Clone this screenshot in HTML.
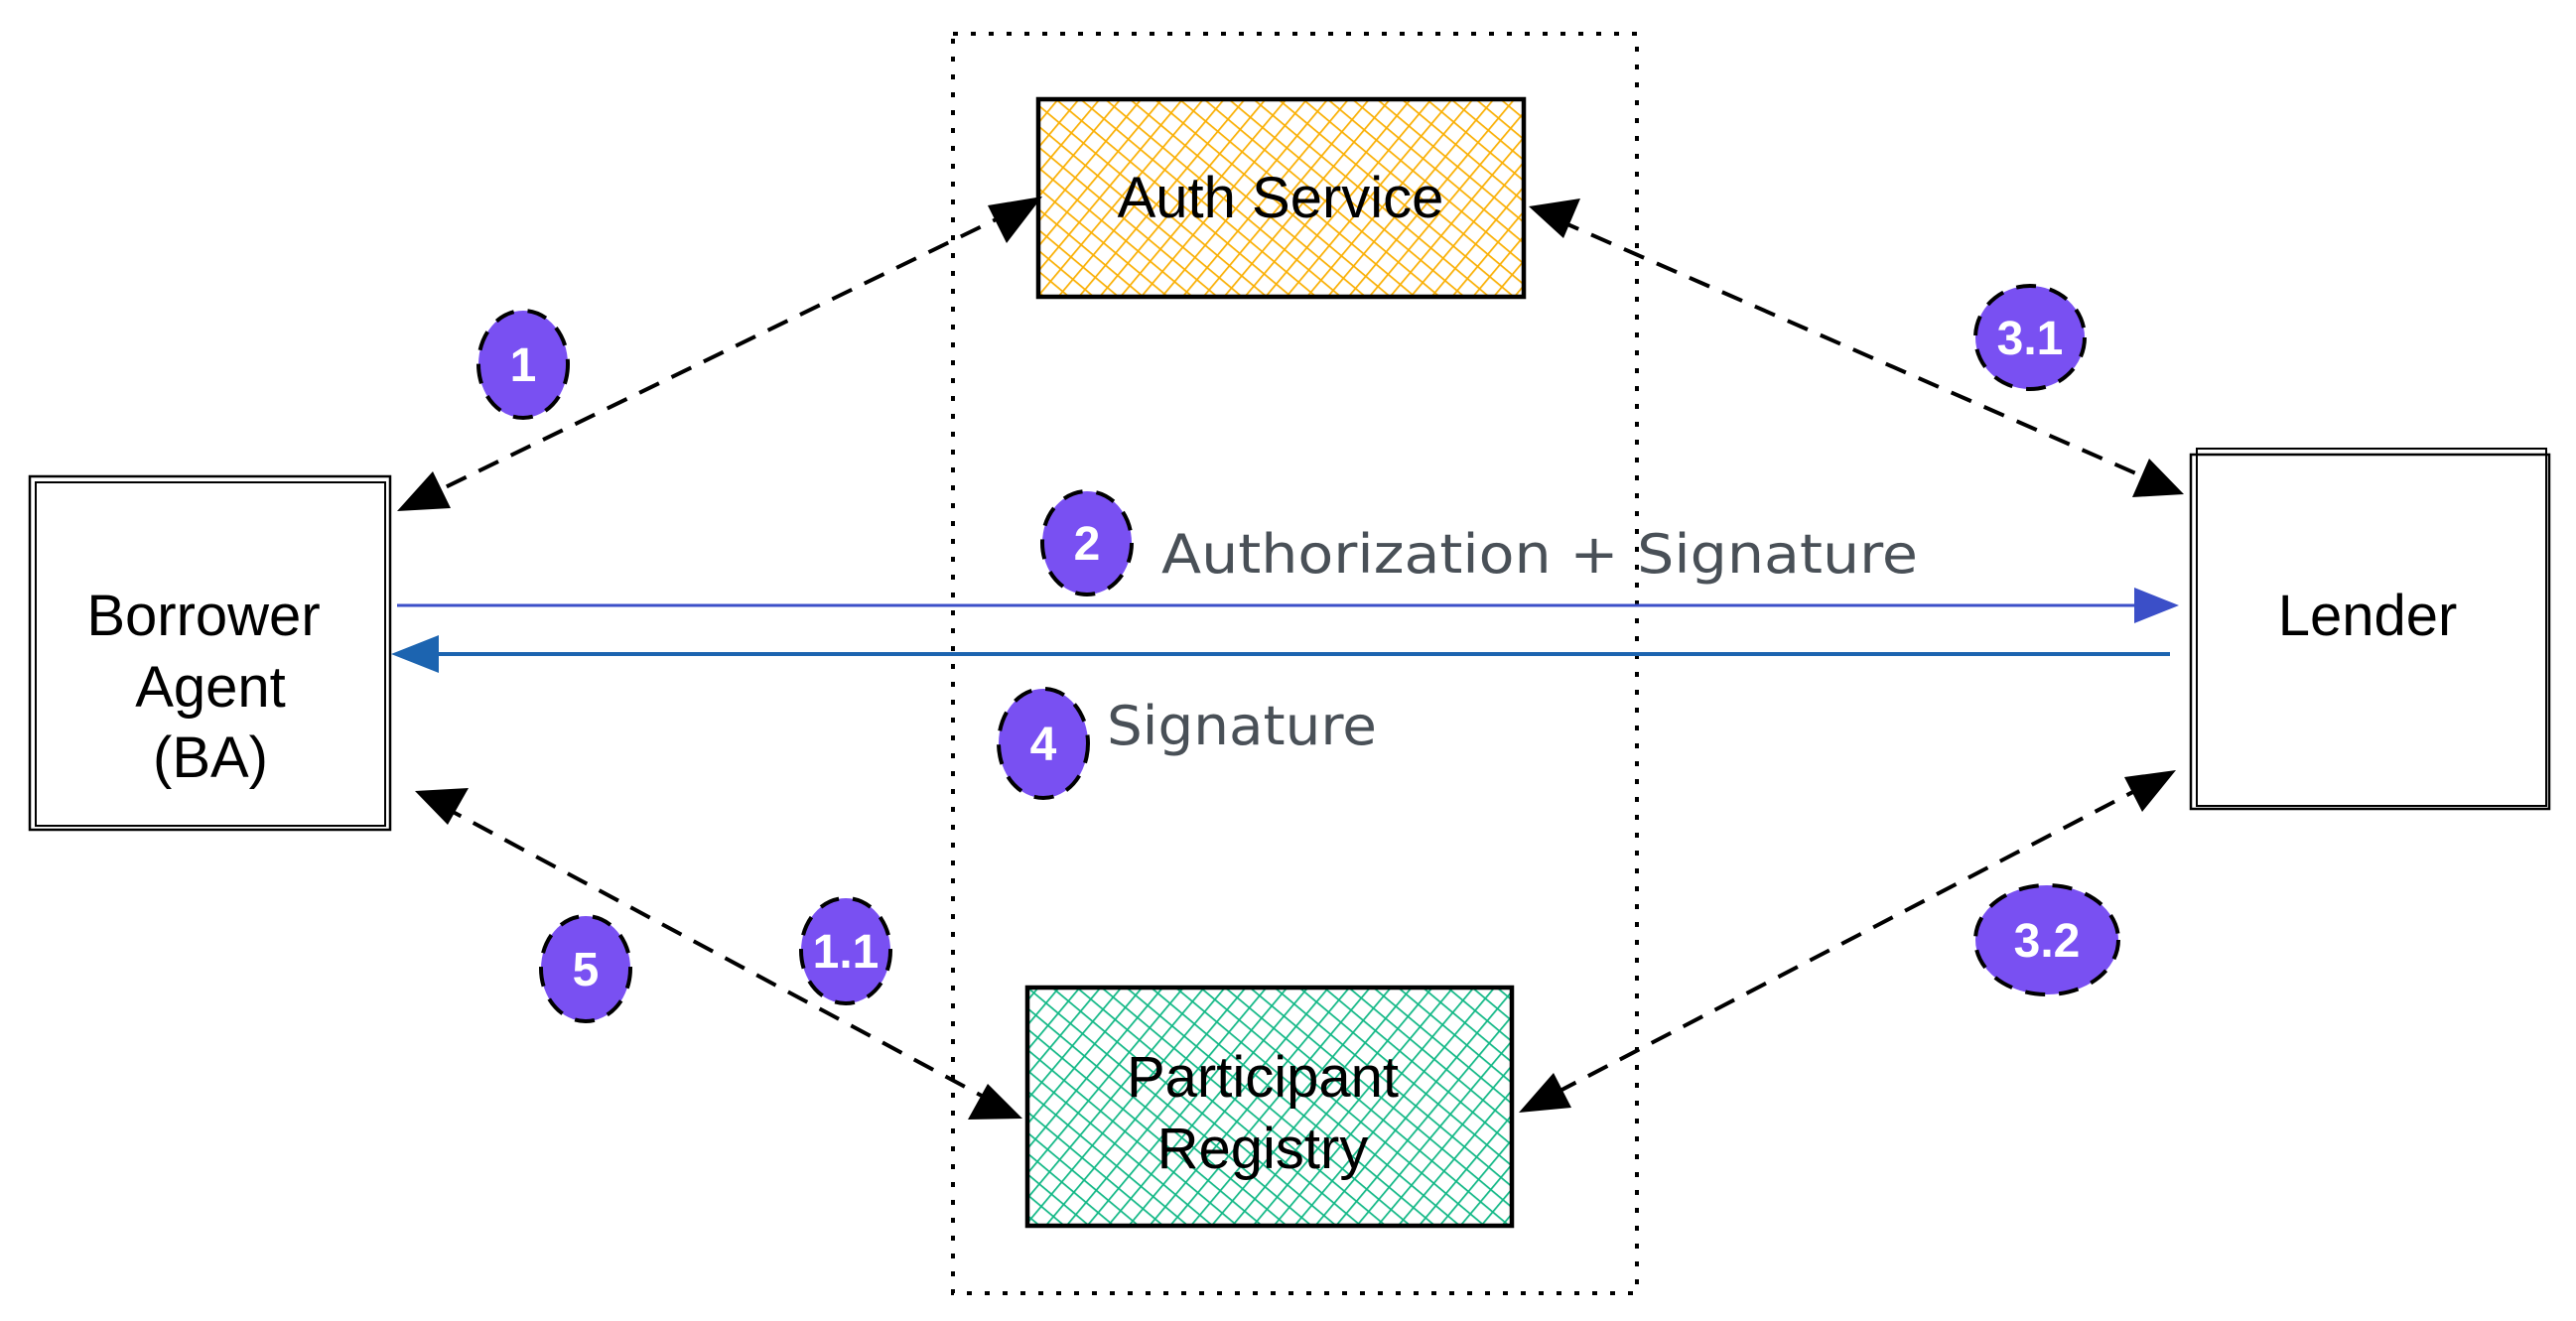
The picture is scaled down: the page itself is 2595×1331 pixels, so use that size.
<!DOCTYPE html>
<html><head><meta charset="utf-8"><style>
html,body{margin:0;padding:0;background:#fff;}
svg{display:block;}
.t{font-family:"Liberation Sans",sans-serif;font-size:58px;fill:#000;text-anchor:middle;}
.h{font-family:"DejaVu Sans","Liberation Sans",sans-serif;font-size:54px;fill:#495057;}
.b{font-family:"Liberation Sans",sans-serif;font-size:48px;fill:#fff;text-anchor:middle;font-weight:bold;}
</style></head><body>
<svg width="2595" height="1331" viewBox="0 0 2595 1331" xmlns="http://www.w3.org/2000/svg">
<defs>
<pattern id="py" width="16" height="16" patternUnits="userSpaceOnUse" patternTransform="rotate(40)">
<rect width="16" height="16" fill="#fff"/>
<line x1="0" y1="0" x2="0" y2="16" stroke="#fab005" stroke-width="3.5"/>
<line x1="0" y1="0" x2="16" y2="0" stroke="#fab005" stroke-width="3.5"/>
</pattern>
<pattern id="pg" width="16" height="16" patternUnits="userSpaceOnUse" patternTransform="rotate(40)">
<rect width="16" height="16" fill="#fff"/>
<line x1="0" y1="0" x2="0" y2="16" stroke="#12b886" stroke-width="3.5"/>
<line x1="0" y1="0" x2="16" y2="0" stroke="#12b886" stroke-width="3.5"/>
</pattern>
</defs>
<!-- container -->
<rect x="960" y="34" width="689" height="1269" fill="none" stroke="#000" stroke-width="4" stroke-dasharray="5 13"/>
<!-- Auth Service -->
<rect x="1046" y="100" width="489" height="199" fill="url(#py)" stroke="#000" stroke-width="4.5"/>
<text class="t" x="1290" y="219">Auth Service</text>
<!-- Participant Registry -->
<rect x="1035" y="995" width="488" height="240" fill="url(#pg)" stroke="#000" stroke-width="4.5"/>
<text class="t" x="1272" y="1105">Participant</text>
<text class="t" x="1272" y="1177">Registry</text>
<!-- BA -->
<rect x="30" y="480" width="363" height="356" fill="none" stroke="#000" stroke-width="2.5"/>
<rect x="36" y="486" width="352" height="346" fill="none" stroke="#000" stroke-width="2"/>
<text class="t" x="205" y="640">Borrower</text>
<text class="t" x="212" y="712">Agent</text>
<text class="t" x="212" y="783">(BA)</text>
<!-- Lender -->
<rect x="2207" y="458" width="361" height="357" fill="none" stroke="#000" stroke-width="2.5"/>
<rect x="2213" y="452" width="352" height="360" fill="none" stroke="#000" stroke-width="2"/>
<text class="t" x="2385" y="640">Lender</text>
<!-- dashed arrows -->
<g stroke="#000" stroke-width="4" stroke-dasharray="22 14" fill="none">
<line x1="1020" y1="213" x2="430" y2="500"/>
<line x1="1570" y1="222" x2="2170" y2="485"/>
<line x1="2162" y1="791" x2="1560" y2="1105"/>
<line x1="445" y1="812" x2="1000" y2="1110"/>
</g>
<g fill="#000">
<path d="M1050,198 L995,207 L1014,245 z"/>
<path d="M400,515 L436,475 L454,512 z"/>
<path d="M1540,208 L1592,200 L1575,240 z"/>
<path d="M2200,498 L2148,501 L2165,462 z"/>
<path d="M2192,776 L2158,818 L2140,783 z"/>
<path d="M1530,1121 L1565,1081 L1583,1116 z"/>
<path d="M418,797 L472,794 L451,831 z"/>
<path d="M1030,1127 L975,1128 L995,1092 z"/>
</g>
<!-- blue lines -->
<line x1="400" y1="610" x2="2160" y2="610" stroke="#3b4fc8" stroke-width="3"/>
<path d="M2195,610 L2150,592 L2150,628 z" fill="#3b4fc8"/>
<line x1="2186" y1="659" x2="430" y2="659" stroke="#1c64b0" stroke-width="4"/>
<path d="M394,659 L442,640 L442,678 z" fill="#1c64b0"/>
<!-- labels -->
<text class="h" x="1170" y="577" textLength="762" lengthAdjust="spacingAndGlyphs">Authorization + Signature</text>
<text class="h" x="1115" y="750" textLength="272" lengthAdjust="spacingAndGlyphs">Signature</text>
<!-- badges -->
<g fill="#7950f2" stroke="#000" stroke-width="4" stroke-dasharray="20 14">
<ellipse cx="527" cy="367" rx="45" ry="54"/>
<ellipse cx="1095" cy="547" rx="45" ry="52"/>
<ellipse cx="1051" cy="749" rx="45" ry="55"/>
<ellipse cx="590" cy="976" rx="45" ry="53"/>
<ellipse cx="852" cy="958" rx="45" ry="53"/>
<ellipse cx="2045" cy="340" rx="55" ry="52"/>
<ellipse cx="2062" cy="947" rx="72" ry="55"/>
</g>
<text class="b" x="527" y="384">1</text>
<text class="b" x="1095" y="564">2</text>
<text class="b" x="1051" y="766">4</text>
<text class="b" x="590" y="993">5</text>
<text class="b" x="852" y="975">1.1</text>
<text class="b" x="2045" y="357">3.1</text>
<text class="b" x="2062" y="964">3.2</text>
</svg>
</body></html>
